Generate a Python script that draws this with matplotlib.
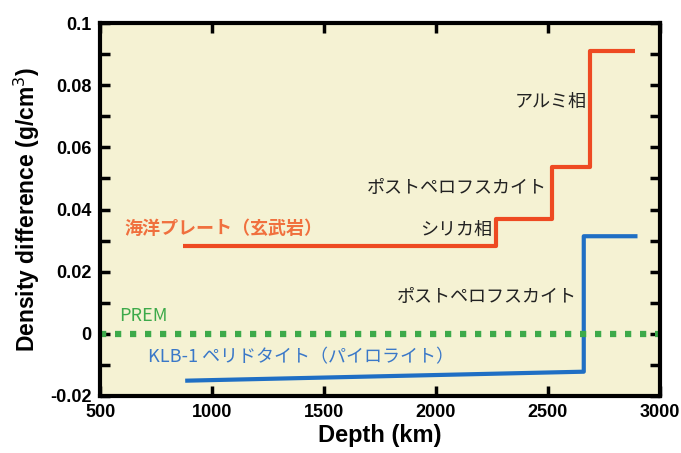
import matplotlib
matplotlib.use('Agg')
import matplotlib.pyplot as plt
from matplotlib.ticker import MultipleLocator
import numpy as np

# ocean plate (basalt) density difference, stepwise
ocean_depth = [870, 2270, 2270, 2520, 2520, 2690, 2690, 2890]
ocean_drho = [0.0284, 0.0284, 0.0371, 0.0371, 0.0536, 0.0536, 0.0910, 0.0910]

# KLB-1 peridotite (pyrolite)
klb_depth = [880, 2660, 2660, 2900]
klb_drho = [-0.0151, -0.0122, 0.0314, 0.0314]

# PREM reference
prem_depth = [500, 3000]
prem_drho = [0.0, 0.0]

red = '#EE4A22'
blue = '#1F6FC4'
green = '#3DAA4A'
jp = ['Noto Sans CJK JP', 'DejaVu Sans']
num_font = ['Liberation Sans Narrow', 'Liberation Sans']
fs = 13

fig = plt.figure(figsize=(6.81, 4.53), dpi=100)
ax = fig.add_axes([0.147, 0.126, 0.822, 0.823])
ax.set_facecolor('#F5F2D3')

ax.plot(ocean_depth, ocean_drho, color=red, lw=3, solid_capstyle='butt')
ax.plot(klb_depth, klb_drho, color=blue, lw=3, solid_capstyle='butt')
ax.plot(prem_depth, prem_drho, color=green, lw=4.5, linestyle=(0, (1.0, 1.4)))

ax.text(610, 0.0338, '海洋プレート（玄武岩）', color='#F0703E', fontsize=fs,
        fontweight='bold', family=jp, va='center', ha='left')
ax.text(2250, 0.0335, 'シリカ相', color='#222222', fontsize=fs, family=jp,
        va='center', ha='right')
ax.text(2495, 0.0470, 'ポストペロフスカイト', color='#222222', fontsize=fs, family=jp,
        va='center', ha='right')
ax.text(2672, 0.0745, 'アルミ相', color='#222222', fontsize=fs, family=jp,
        va='center', ha='right')
ax.text(2628, 0.0118, 'ポストペロフスカイト', color='#222222', fontsize=fs, family=jp,
        va='center', ha='right')
ax.text(585, 0.0058, 'PREM', color=green, fontsize=fs, family=jp,
        va='center', ha='left')
ax.text(715, -0.0077, 'KLB-1 ペリドタイト（パイロライト）', color='#3A78C8', fontsize=fs,
        family=jp, va='center', ha='left')

ax.set_xlim(500, 3000)
ax.set_ylim(-0.02, 0.1)
ax.xaxis.set_major_locator(MultipleLocator(500))
ax.yaxis.set_minor_locator(MultipleLocator(0.01))
ax.set_yticks([-0.02, 0, 0.02, 0.04, 0.06, 0.08, 0.1])
ax.set_yticklabels(['-0.02', '0', '0.02', '0.04', '0.06', '0.08', '0.1'])
ax.tick_params(which='both', direction='in', top=True, right=True, width=2.5)
ax.tick_params(which='major', length=7, labelsize=13, pad=6)
ax.tick_params(which='minor', length=7)
for lab in ax.get_xticklabels() + ax.get_yticklabels():
    lab.set_fontweight('bold')
    lab.set_family(num_font)
for s in ax.spines.values():
    s.set_linewidth(3)

ax.set_xlabel('Depth (km)', fontsize=17, fontweight='bold', family='Liberation Sans', labelpad=2)
ax.set_ylabel('Density difference (g/cm$^3$)', fontsize=16.5, fontweight='bold',
              family='Liberation Sans', labelpad=6)

fig.savefig('out.png', dpi=100, facecolor='white')
